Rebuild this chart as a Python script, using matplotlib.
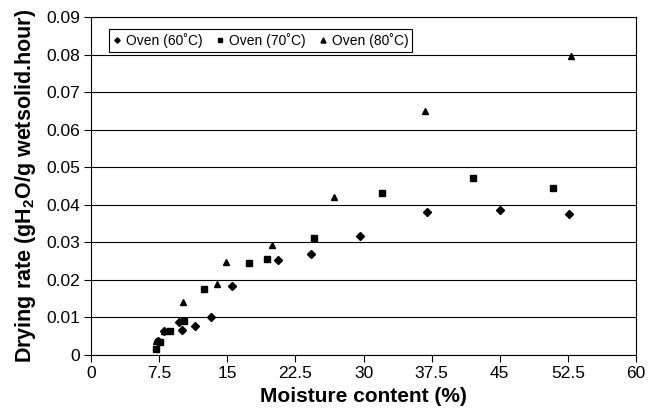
import matplotlib
matplotlib.use('Agg')
from matplotlib import pyplot as plt
import numpy as np

plt.rcParams['font.family'] = ['Liberation Sans', 'DejaVu Sans']
plt.rcParams['mathtext.fontset'] = 'custom'
plt.rcParams['mathtext.rm'] = 'Liberation Sans'
plt.rcParams['mathtext.bf'] = 'Liberation Sans:bold'

# Oven 60 C (diamonds)
x_60 = [7.4, 8.0, 9.7, 10.0, 11.4, 13.2, 15.5, 20.6, 24.2, 29.6, 37.0, 45.0, 52.6]
y_60 = [0.0037, 0.0063, 0.0089, 0.0067, 0.0077, 0.0100, 0.0184, 0.0253, 0.0269,
        0.0317, 0.0381, 0.0387, 0.0375]
# Oven 70 C (squares)
x_70 = [7.2, 7.6, 8.7, 10.2, 12.4, 17.4, 19.4, 24.6, 32.0, 42.0, 50.9]
y_70 = [0.0017, 0.0035, 0.0063, 0.0090, 0.0175, 0.0246, 0.0257, 0.0312, 0.0433,
        0.0473, 0.0445]
# Oven 80 C (triangles)
x_80 = [7.2, 8.0, 10.1, 13.9, 14.9, 19.9, 26.7, 36.8, 52.8]
y_80 = [0.0038, 0.0065, 0.0141, 0.0190, 0.0248, 0.0292, 0.0421, 0.0651, 0.0797]

x_ticks = [0, 7.5, 15, 22.5, 30, 37.5, 45, 52.5, 60]
x_labels = ['0', '7.5', '15', '22.5', '30', '37.5', '45', '52.5', '60']
y_ticks = [0, 0.01, 0.02, 0.03, 0.04, 0.05, 0.06, 0.07, 0.08, 0.09]
y_labels = ['0', '0.01', '0.02', '0.03', '0.04', '0.05', '0.06', '0.07', '0.08', '0.09']

fig = plt.figure(figsize=(6.53, 4.15), dpi=100)
ax = fig.add_axes([0.1394, 0.1446, 0.8346, 0.8134])

ax.plot(x_60, y_60, 'D', color='black', markersize=3.6, label='Oven (60˚C)')
ax.plot(x_70, y_70, 's', color='black', markersize=4.2, label='Oven (70˚C)')
ax.plot(x_80, y_80, '^', color='black', markersize=4.8, label='Oven (80˚C)')

ax.set_xlim(0, 60)
ax.set_ylim(0, 0.09)
ax.set_xticks(x_ticks)
ax.set_xticklabels(x_labels)
ax.set_yticks(y_ticks)
ax.set_yticklabels(y_labels)
ax.tick_params(direction='out', length=5, width=0.8, labelsize=12.5, colors='black', pad=3)
ax.yaxis.grid(True, color='black', linewidth=0.8)
ax.set_axisbelow(True)
for s in ax.spines.values():
    s.set_linewidth(0.8)

ax.set_xlabel('Moisture content (%)', fontsize=15, fontweight='bold', labelpad=4)
ax.set_ylabel(r'Drying rate (gH$_\mathbf{2}$O/g wetsolid.hour)', fontsize=15.5,
              fontweight='bold', labelpad=6)

leg = ax.legend(loc='upper left', bbox_to_anchor=(0.033, 0.966), ncol=3, fontsize=10,
                frameon=True, fancybox=False, edgecolor='black', framealpha=1,
                handlelength=0.5, handletextpad=0.4, columnspacing=1.0,
                borderpad=0.3, borderaxespad=0, markerscale=0.75)
leg.get_frame().set_linewidth(0.8)

plt.savefig('out.png', dpi=100)
